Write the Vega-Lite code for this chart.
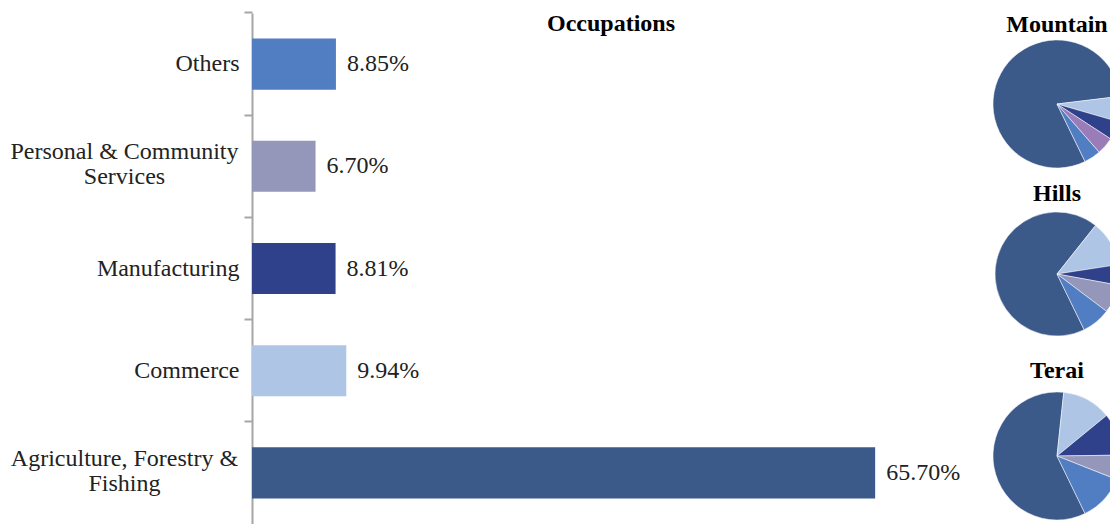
{
  "$schema": "https://vega.github.io/schema/vega-lite/v6.json",
  "padding": {"left": 10, "top": 11, "right": -11, "bottom": 0},
  "background": "white",
  "config": {
    "view": {"stroke": null},
    "font": "Liberation Serif",
    "title": {"font": "Liberation Serif", "fontSize": 24, "fontWeight": "bold", "color": "#000000", "baseline": "alphabetic", "anchor": "middle"}
  },
  "datasets": {
    "overall": [
      {"occupation": "Others", "share": 0.0885},
      {"occupation": "Personal & Community Services", "share": 0.0670},
      {"occupation": "Manufacturing", "share": 0.0881},
      {"occupation": "Commerce", "share": 0.0994},
      {"occupation": "Agriculture, Forestry & Fishing", "share": 0.6570}
    ],
    "regions": [
      {"region": "Mountain", "occupation": "Agriculture, Forestry & Fishing", "rank": 1, "share": 80.3},
      {"region": "Mountain", "occupation": "Commerce", "rank": 2, "share": 6.4},
      {"region": "Mountain", "occupation": "Manufacturing", "rank": 3, "share": 4.7},
      {"region": "Mountain", "occupation": "Personal & Community Services", "rank": 4, "share": 4.4},
      {"region": "Mountain", "occupation": "Others", "rank": 5, "share": 4.2},
      {"region": "Hills", "occupation": "Agriculture, Forestry & Fishing", "rank": 1, "share": 67.9},
      {"region": "Hills", "occupation": "Commerce", "rank": 2, "share": 11.9},
      {"region": "Hills", "occupation": "Manufacturing", "rank": 3, "share": 5.3},
      {"region": "Hills", "occupation": "Personal & Community Services", "rank": 4, "share": 7.4},
      {"region": "Hills", "occupation": "Others", "rank": 5, "share": 7.5},
      {"region": "Terai", "occupation": "Agriculture, Forestry & Fishing", "rank": 1, "share": 58.9},
      {"region": "Terai", "occupation": "Commerce", "rank": 2, "share": 12.4},
      {"region": "Terai", "occupation": "Manufacturing", "rank": 3, "share": 10.7},
      {"region": "Terai", "occupation": "Personal & Community Services", "rank": 4, "share": 6.2},
      {"region": "Terai", "occupation": "Others", "rank": 5, "share": 11.8}
    ]
  },
  "hconcat": [
    {
      "width": 718,
      "height": 484,
      "title": {"text": "Occupations", "offset": 0, "dy": 25},
      "data": {"name": "overall"},
      "encoding": {
        "y": {
          "field": "occupation",
          "type": "nominal",
          "sort": ["Others", "Personal & Community Services", "Manufacturing", "Commerce", "Agriculture, Forestry & Fishing"],
          "scale": {"paddingInner": 0.5, "paddingOuter": 0.25, "range": [-27, 484]},
          "title": null,
          "axis": {
            "domainColor": "#A6A6A6",
            "domainWidth": 2,
            "tickColor": "#A6A6A6",
            "tickWidth": 2,
            "tickSize": 8,
            "bandPosition": -0.5,
            "grid": false,
            "labelFont": "Liberation Serif",
            "labelFontSize": 24,
            "labelColor": "#222222",
            "labelLineHeight": 25,
            "labelLimit": 500,
            "labelBaseline": "middle",
            "labelExpr": "datum.value == 'Personal & Community Services' ? ['Personal & Community', 'Services'] : datum.value == 'Agriculture, Forestry & Fishing' ? ['Agriculture, Forestry &', 'Fishing'] : datum.value",
            "labelAlign": {"condition": {"test": "datum.value == 'Personal & Community Services' || datum.value == 'Agriculture, Forestry & Fishing'", "value": "center"}, "value": "right"},
            "labelPadding": {"condition": {"test": "datum.value == 'Personal & Community Services' || datum.value == 'Agriculture, Forestry & Fishing'", "value": 120}, "value": 5},
            "labelOffset": {"condition": {"test": "datum.value == 'Personal & Community Services' || datum.value == 'Agriculture, Forestry & Fishing'", "value": -14}, "value": 0}
          }
        },
        "x": {"field": "share", "type": "quantitative", "scale": {"domain": [0, 0.757], "nice": false}, "axis": null}
      },
      "layer": [
        {
          "mark": {"type": "bar"},
          "encoding": {
            "color": {
              "field": "occupation",
              "type": "nominal",
              "scale": {
                "domain": ["Agriculture, Forestry & Fishing", "Commerce", "Manufacturing", "Personal & Community Services", "Others"],
                "range": ["#3B5A8A", "#AEC5E6", "#2E418A", "#9597BA", "#517EC3"]
              },
              "legend": null
            }
          }
        },
        {
          "mark": {"type": "text", "align": "left", "baseline": "middle", "dx": 11, "fontSize": 24, "font": "Liberation Serif", "color": "#222222"},
          "encoding": {"text": {"field": "share", "type": "quantitative", "format": ".2%"}}
        }
      ]
    },
    {
      "spacing": 13,
      "resolve": {"scale": {"color": "independent", "theta": "independent"}},
      "vconcat": [
        {
          "width": 128,
          "height": 128,
          "title": {"text": "Mountain", "offset": 2},
          "data": {"name": "regions"},
          "transform": [{"filter": "datum.region == 'Mountain'"}],
          "mark": {"type": "arc", "stroke": "#ffffff", "strokeWidth": 0.5},
          "encoding": {
            "theta": {"field": "share", "type": "quantitative", "stack": true, "scale": {"range": [2.688, 8.971], "nice": false}},
            "order": {"field": "rank", "type": "quantitative"},
            "color": {
              "field": "occupation",
              "type": "nominal",
              "scale": {
                "domain": ["Agriculture, Forestry & Fishing", "Commerce", "Manufacturing", "Personal & Community Services", "Others"],
                "range": ["#3B5A8A", "#AEC5E6", "#2E418A", "#9A7DB8", "#517EC3"]
              },
              "legend": null
            }
          }
        },
        {
          "width": 128,
          "height": 144,
          "title": {"text": "Hills", "offset": 0, "dy": 4},
          "data": {"name": "regions"},
          "transform": [{"filter": "datum.region == 'Hills'"}],
          "mark": {"type": "arc", "radius": 62, "stroke": "#ffffff", "strokeWidth": 0.5},
          "encoding": {
            "theta": {"field": "share", "type": "quantitative", "stack": true, "scale": {"range": [2.688, 8.971], "nice": false}},
            "order": {"field": "rank", "type": "quantitative"},
            "color": {
              "field": "occupation",
              "type": "nominal",
              "scale": {
                "domain": ["Agriculture, Forestry & Fishing", "Commerce", "Manufacturing", "Personal & Community Services", "Others"],
                "range": ["#3B5A8A", "#AEC5E6", "#2E418A", "#9597BA", "#517EC3"]
              },
              "legend": null
            }
          }
        },
        {
          "width": 128,
          "height": 128,
          "title": {"text": "Terai", "offset": 8},
          "data": {"name": "regions"},
          "transform": [{"filter": "datum.region == 'Terai'"}],
          "mark": {"type": "arc", "stroke": "#ffffff", "strokeWidth": 0.5},
          "encoding": {
            "theta": {"field": "share", "type": "quantitative", "stack": true, "scale": {"range": [2.688, 8.971], "nice": false}},
            "order": {"field": "rank", "type": "quantitative"},
            "color": {
              "field": "occupation",
              "type": "nominal",
              "scale": {
                "domain": ["Agriculture, Forestry & Fishing", "Commerce", "Manufacturing", "Personal & Community Services", "Others"],
                "range": ["#3B5A8A", "#AEC5E6", "#2E418A", "#9597BA", "#517EC3"]
              },
              "legend": null
            }
          }
        }
      ]
    }
  ],
  "spacing": 22,
  "resolve": {"scale": {"color": "independent", "theta": "independent"}}
}
